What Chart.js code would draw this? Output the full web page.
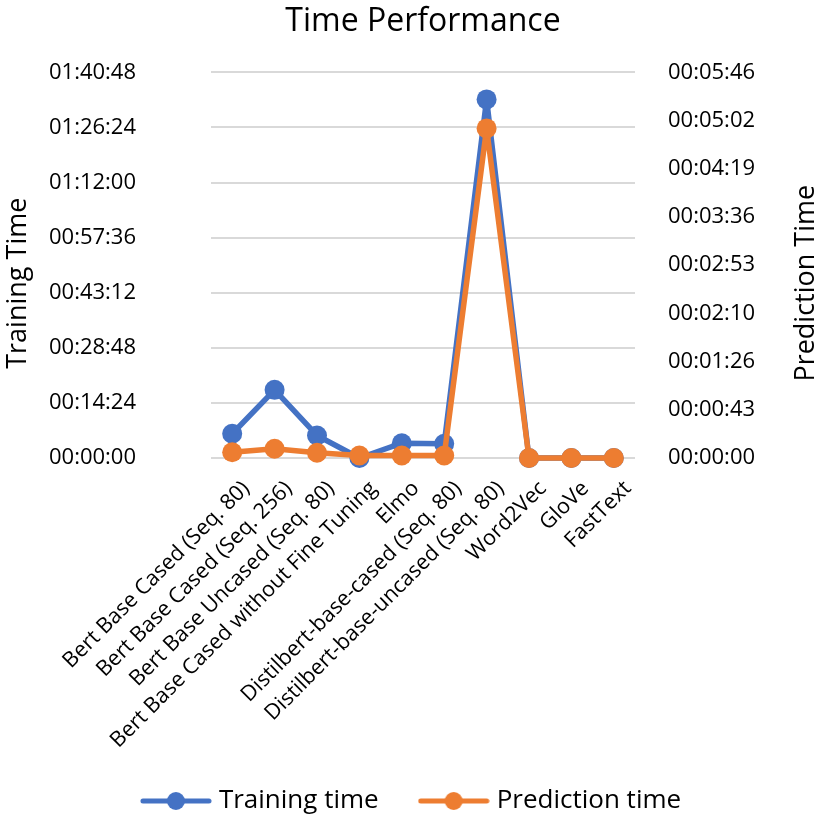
<!DOCTYPE html>
<html>
<head>
<meta charset="utf-8">
<title>Time Performance</title>
<script src="https://cdn.jsdelivr.net/npm/chart.js@4/dist/chart.umd.min.js"></script>
<style>
  html, body { margin: 0; padding: 0; background: #fff; }
  #wrap { width: 827px; height: 824px; }
</style>
</head>
<body>
<div id="wrap"><canvas id="timeChart" width="827" height="824"></canvas></div>
<script>
// values in seconds
const categories = [
    'Bert Base Cased (Seq. 80)',
    'Bert Base Cased (Seq. 256)',
    'Bert Base Uncased (Seq. 80)',
    'Bert Base Cased without Fine Tuning',
    'Elmo',
    'Distilbert-base-cased (Seq. 80)',
    'Distilbert-base-uncased (Seq. 80)',
    'Word2Vec',
    'GloVe',
    'FastText'
];
const trainingTime = [380, 1069, 353, 0, 232, 223, 5624, 0, 0, 0];
const predictionTime = [5.2, 8.3, 4.7, 2.2, 2.2, 2.2, 295.4, 0, 0, 0];

// axis ranges (seconds): 00:14:24 steps on the left, 00:00:43.2 steps on the right
const trainingAxis = [0, 6048, 864];
const predictionAxis = [0, 345.6, 43.2];
const axisTitleText = ['Training Time', 'Prediction Time'];

const BLUE = '#4472C4';
const ORANGE = '#ED7D31';
const FONT = 'Open Sans';

function hms(sec) {
    const s = Math.round(sec);
    const parts = [Math.floor(s / 3600), Math.floor((s % 3600) / 60), s % 60];
    return parts.map(v => String(v).padStart(2, '0')).join(':');
}

// legend symbol: line with a dot in the middle
function legendIcon(color) {
    const c = document.createElement('canvas');
    c.width = 72;
    c.height = 24;
    const g = c.getContext('2d');
    g.strokeStyle = color;
    g.lineWidth = 5;
    g.lineCap = 'round';
    g.beginPath();
    g.moveTo(3, 12);
    g.lineTo(69, 12);
    g.stroke();
    g.fillStyle = color;
    g.beginPath();
    g.arc(36, 12, 9, 0, Math.PI * 2);
    g.fill();
    return c;
}
const icons = [legendIcon(BLUE), legendIcon(ORANGE)];

// both axis titles read bottom-to-top, so draw them by hand
const axisTitles = {
    id: 'axisTitles',
    afterDraw(chart) {
        const {ctx, chartArea} = chart;
        const midY = (chartArea.top + chartArea.bottom) / 2 + 18;
        const xs = [18, chart.width - 21];
        ctx.save();
        ctx.font = '27px "' + FONT + '"';
        ctx.fillStyle = '#000';
        ctx.textAlign = 'center';
        ctx.textBaseline = 'middle';
        axisTitleText.forEach((t, i) => {
            ctx.save();
            ctx.translate(xs[i], midY);
            ctx.rotate(-Math.PI / 2);
            ctx.fillText(t, 0, 0);
            ctx.restore();
        });
        ctx.restore();
    }
};

function noVerticalPadding(scale) {
    scale.paddingTop = 0;
    scale.paddingBottom = 0;
}

Chart.defaults.font.family = FONT;
Chart.defaults.color = '#000';

const ctx = document.getElementById('timeChart').getContext('2d');
new Chart(ctx, {
    type: 'line',
    data: {
        labels: categories,
        datasets: [{
            label: 'Training time',
            data: trainingTime,
            yAxisID: 'y',
            borderColor: BLUE,
            backgroundColor: BLUE,
            borderWidth: 5.5,
            borderJoinStyle: 'round',
            pointRadius: 10,
            pointHoverRadius: 10,
            pointBorderWidth: 0,
            tension: 0,
            clip: false,
            order: 1
        }, {
            label: 'Prediction time',
            data: predictionTime,
            yAxisID: 'y1',
            borderColor: ORANGE,
            backgroundColor: ORANGE,
            borderWidth: 5.5,
            borderJoinStyle: 'round',
            pointRadius: 10,
            pointHoverRadius: 10,
            pointBorderWidth: 0,
            tension: 0,
            clip: false,
            order: 0
        }]
    },
    options: {
        responsive: false,
        animation: false,
        layout: { padding: 0 },
        plugins: {
            title: {
                display: true,
                fullSize: false,
                text: 'Time Performance',
                color: '#000',
                font: { size: 32, weight: 'normal' },
                padding: { top: 3, bottom: 31 }
            },
            legend: {
                position: 'bottom',
                labels: {
                    usePointStyle: true,
                    pointStyleWidth: 60,
                    padding: 45,
                    color: '#000',
                    font: { size: 26 },
                    sort: (a, b) => a.datasetIndex - b.datasetIndex,
                    generateLabels: function(chart) {
                        const items = Chart.defaults.plugins.legend.labels.generateLabels(chart);
                        items.forEach(it => { it.pointStyle = icons[it.datasetIndex]; });
                        return items;
                    }
                }
            },
            tooltip: { enabled: false }
        },
        scales: {
            x: {
                offset: true,
                grid: { display: false, drawTicks: false },
                border: { display: false },
                ticks: {
                    autoSkip: false,
                    minRotation: 45,
                    maxRotation: 45,
                    padding: 18,
                    labelOffset: 14,
                    color: '#000',
                    font: { size: 21.5 }
                },
                afterFit: function(scale) {
                    scale.height = 285;
                    // long rotated labels run past the axis box; don't clip them
                    scale._computeLabelArea = function() { return undefined; };
                }
            },
            y: {
                position: 'left',
                min: trainingAxis[0],
                max: trainingAxis[1],
                grid: { color: '#D9D9D9', lineWidth: 2, drawTicks: false },
                border: { display: false },
                ticks: {
                    stepSize: trainingAxis[2],
                    padding: 75,
                    color: '#000',
                    font: { size: 22 },
                    callback: function(value) { return hms(value); }
                },
                afterFit: function(scale) {
                    scale.width = 211;
                    noVerticalPadding(scale);
                }
            },
            y1: {
                position: 'right',
                min: predictionAxis[0],
                max: predictionAxis[1],
                grid: { display: false, drawTicks: false },
                border: { display: false },
                ticks: {
                    stepSize: predictionAxis[2],
                    padding: 33,
                    color: '#000',
                    font: { size: 22 },
                    callback: function(value) { return hms(value); }
                },
                afterFit: function(scale) {
                    scale.width = 192;
                    noVerticalPadding(scale);
                }
            }
        }
    },
    plugins: [axisTitles]
});
</script>
</body>
</html>
